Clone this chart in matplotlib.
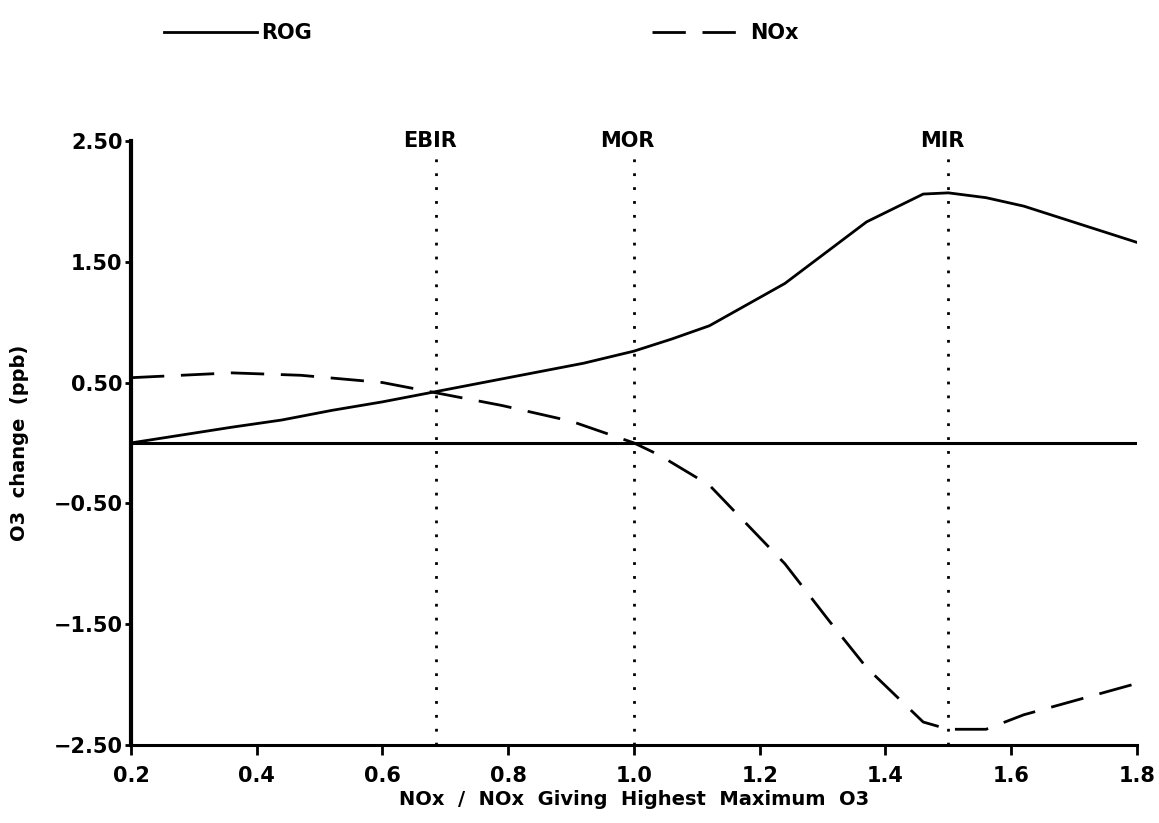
import matplotlib
matplotlib.use("Agg")
import matplotlib.pyplot as plt
import numpy as np

# Values
rog_x = [0.20, 0.36, 0.44, 0.52, 0.60, 0.68, 0.76, 0.84, 0.92, 1.00, 1.06, 1.12,
         1.24, 1.37, 1.46, 1.50, 1.56, 1.62, 1.80]
rog_y = [0.00, 0.13, 0.19, 0.27, 0.34, 0.42, 0.50, 0.58, 0.66, 0.76, 0.86, 0.97,
         1.32, 1.83, 2.06, 2.07, 2.03, 1.96, 1.66]

nox_x = [0.20, 0.36, 0.47, 0.60, 0.68, 0.79, 0.90, 1.00, 1.04, 1.12, 1.24, 1.31,
         1.37, 1.46, 1.50, 1.56, 1.62, 1.80]
nox_y = [0.54, 0.58, 0.56, 0.50, 0.42, 0.31, 0.18, 0.00, -0.10, -0.35, -1.00, -1.47,
         -1.86, -2.31, -2.37, -2.37, -2.25, -1.99]

ref_names = ["EBIR", "MOR", "MIR"]
ref_x = [0.685, 1.0, 1.5]

x_ticks = [0.2, 0.4, 0.6, 0.8, 1.0, 1.2, 1.4, 1.6, 1.8]
y_ticks = [-2.5, -1.5, -0.5, 0.5, 1.5, 2.5]

plt.rcParams['font.family'] = ['DejaVu Sans']
plt.rcParams['font.weight'] = 'bold'

fig = plt.figure(figsize=(11.59, 8.23), dpi=100)
ax = fig.add_axes([0.113, 0.0948, 0.868, 0.734])

l1, = ax.plot(rog_x, rog_y, color='black', linewidth=2, label='ROG')
l2, = ax.plot(nox_x, nox_y, color='black', linewidth=2, dashes=(12, 6), label='NOx')
ax.axhline(0, color='black', linewidth=2.2)

for name, xv in zip(ref_names, ref_x):
    ax.plot([xv, xv], [-2.5, 2.4], color='black', linewidth=2, linestyle=(0, (1, 4)))
    ax.text(xv - 0.01, 2.5, name, ha='center', va='center', fontsize=15, fontweight='bold')

ax.set_xlim(0.2, 1.8)
ax.set_ylim(-2.5, 2.5)
ax.set_xticks(x_ticks)
ax.set_xticklabels([f"{v:.1f}" for v in x_ticks], fontsize=15, fontweight='bold')
ax.set_yticks(y_ticks)
ax.set_yticklabels([f"{v:.2f}".replace('-', '\u2212') for v in y_ticks], fontsize=15, fontweight='bold')
ax.tick_params(axis='x', direction='out', length=7, width=2, pad=8)
ax.tick_params(axis='y', direction='out', length=4, width=2, pad=2)

for s in ['top', 'right']:
    ax.spines[s].set_visible(False)
ax.spines['left'].set_linewidth(3)
ax.spines['bottom'].set_linewidth(2.2)

ax.set_xlabel('NOx  /  NOx  Giving  Highest  Maximum  O3', fontsize=14, fontweight='bold', labelpad=3)
ax.set_ylabel('O3  change  (ppb)', fontsize=14, fontweight='bold', labelpad=18)

fig.legend(handles=[l1, l2], loc='upper left', bbox_to_anchor=(0.125, 0.995), ncol=2,
           frameon=False, handlelength=4.5, columnspacing=16.3, handletextpad=0.2,
           prop={'weight': 'bold', 'size': 15})

fig.savefig('out.png', dpi=100)
